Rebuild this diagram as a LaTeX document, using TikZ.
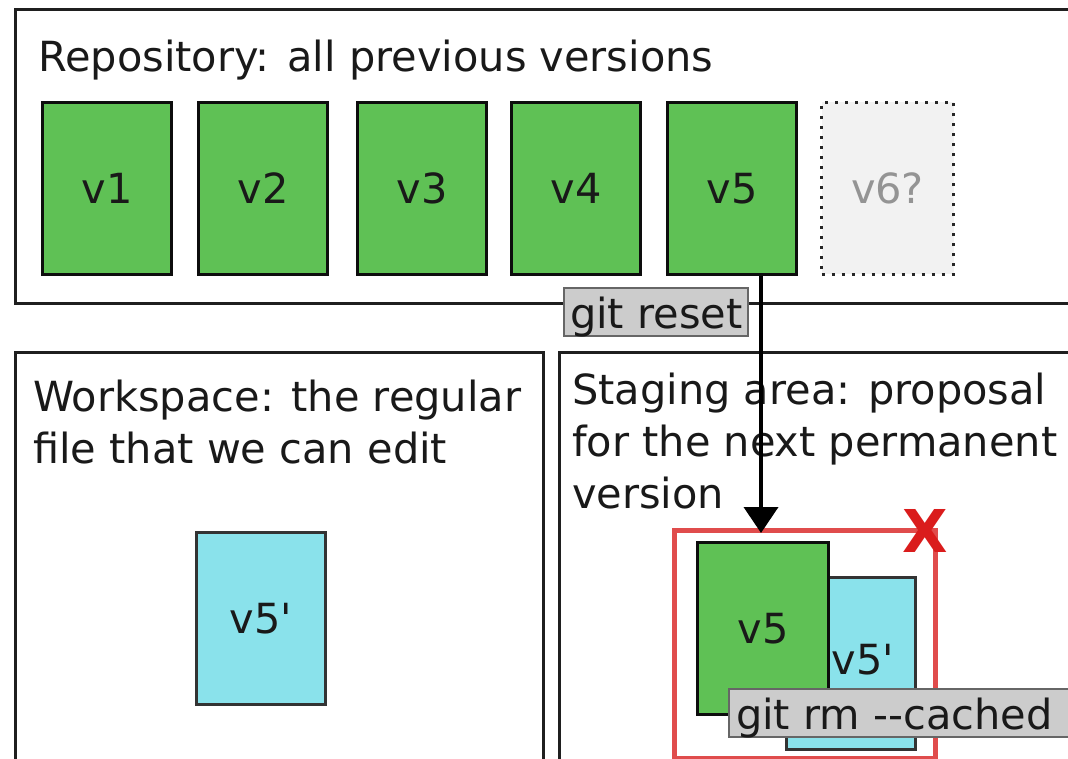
\documentclass[tikz,border=0pt]{standalone}
\usepackage{fontspec}
% plain family: no TeX ligatures, so -- and ' stay as typed
\newfontfamily\dvs{DejaVu Sans}
\usetikzlibrary{arrows.meta,calc}
\definecolor{vgreen}{RGB}{95,193,85}
\definecolor{vcyan}{RGB}{138,226,235}
\definecolor{vgray}{RGB}{242,242,242}
\definecolor{lblfill}{RGB}{204,204,204}
\definecolor{lbldraw}{RGB}{102,102,102}
\definecolor{dropred}{RGB}{224,76,76}
\definecolor{xred}{RGB}{218,28,28}

\begin{document}
\begin{tikzpicture}[x=1pt,y=-1pt,
  every node/.style={font=\dvs\fontsize{41.5}{51.5}\selectfont},
  panel/.style={draw=black!88, line width=3pt},
  version/.style={rectangle, draw=black!95, line width=3pt,
    minimum width=129pt, minimum height=172pt, inner sep=0pt,
    anchor=north west, text=black!90},
  committed/.style={version, fill=vgreen},
  edited/.style={version, fill=vcyan, draw=black!80},
  pending/.style={version, fill=vgray, draw=black!85,
    dash pattern=on 3pt off 7pt, text=black!42},
  caption/.style={anchor=base west, inner sep=0pt, text=black!90},
  cmd/.style={rectangle, anchor=base west, fill=lblfill, draw=lbldraw,
    line width=2pt, text height=39pt, text depth=7pt,
    inner xsep=6pt, inner ysep=1pt, text=black!90},
  dropbox/.style={rectangle, draw=dropred, line width=5pt, inner sep=0pt,
    anchor=north west, minimum width=261pt, minimum height=228pt},
]
\useasboundingbox (0,0) rectangle (1068,759);
\begin{scope}
\clip (0,0) rectangle (1068,759);

% the three areas
\draw[panel] (15,10) rectangle (1090,304);
\draw[panel] (15,352) rectangle (543,800);
\draw[panel] (559,352) rectangle (1090,800);

% area titles
\node[caption] (repoT) at (38,72) {Repository: all previous versions};
\node[caption] (workA) at (33,411) {Workspace: the regular};
\node[caption] (workB) at (33,463) {file that we can edit};
\node[caption] (stageA) at (572,404) {Staging area: proposal};
\node[caption] (stageB) at (572,456) {for the next permanent};
\node[caption] (stageC) at (572,508) {version};

% committed versions
\node[committed] (v1) at (41,101) {v1};
\node[committed] (v2) at (197,101) {v2};
\node[committed] (v3) at (356,101) {v3};
\node[committed] (v4) at (510,101) {v4};
\node[committed] (v5) at (666,101) {v5};
\node[pending, minimum width=132pt] (v6) at (820,101) {v6?};

% edited copy in the workspace
\node[edited] (wv5) at (195,531) {v5'};

% staged content, about to be dropped
\node[dropbox] (drop) at (672,528) {};
\node[edited] (sv5b) at (785,576) {};
\node[anchor=center, inner sep=0pt, text=black!90] (sv5bT) at (863,660) {v5'};
\node[committed, minimum width=131pt] (sv5) at (696,541) {v5};

% commands
\node[cmd] (reset) at (563,328) {git reset};
\draw[line width=4pt, -{Triangle[width=34pt,length=26pt]}, shorten >=-5pt]
  ([xshift=29pt]v5.south) -- ([xshift=29pt]v5.south |- drop.north);
\node[cmd, inner xsep=7pt] (rmc) at (728,729) {git rm --cached\hspace*{12pt}};
\node[anchor=center, inner sep=0pt, text=xred,
  font=\dvs\bfseries\fontsize{59}{60}\selectfont] (xmark) at (925,531) {X};
\end{scope}
\end{tikzpicture}
\end{document}
